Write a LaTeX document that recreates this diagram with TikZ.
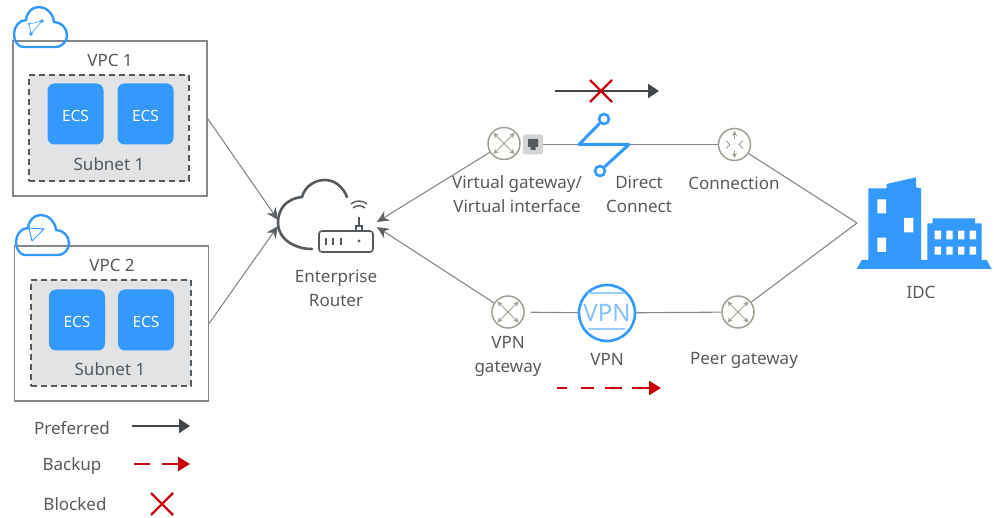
\documentclass[tikz,border=0pt]{standalone}
\usepackage{fontspec}
\setmainfont{Noto Sans}
\usetikzlibrary{arrows.meta}

\definecolor{txtgray}{HTML}{555A5E}
\definecolor{linegray}{HTML}{85888A}
\definecolor{darkline}{HTML}{41464B}
\definecolor{iconblue}{HTML}{3399FF}
\definecolor{subnetgray}{HTML}{E1E3E5}
\definecolor{iconolive}{HTML}{A0A092}
\definecolor{blockred}{HTML}{C7000B}

\tikzset{
	lbl/.style={text=txtgray,font=\fontsize{17}{24}\selectfont,align=center,inner sep=0pt},
	vpcbox/.style={draw=linegray,line width=1.2pt,minimum width=194pt,minimum height=155pt,inner sep=0pt},
	subnetbox/.style={draw=txtgray,fill=subnetgray,dash pattern=on 6pt off 4pt,line width=1.1pt,minimum width=160pt,minimum height=106pt,inner sep=0pt},
	ecsbox/.style={fill=iconblue,rounded corners=7pt,text=white,font=\fontsize{15.5}{18}\selectfont,minimum width=56pt,minimum height=61pt,inner sep=0pt},
	link/.style={draw=linegray,line width=1.1pt},
	gwnode/.style={draw=iconolive,line width=1.5pt,circle,minimum size=32pt,inner sep=0pt,path picture={
		\draw[iconolive,line width=.9pt,{Stealth[length=5pt,width=5pt]}-{Stealth[length=5pt,width=5pt]}] (path picture bounding box.center)+(-10.5,-10.5) -- +(10.5,10.5);
		\draw[iconolive,line width=.9pt,{Stealth[length=5pt,width=5pt]}-{Stealth[length=5pt,width=5pt]}] (path picture bounding box.center)+(-10.5,10.5) -- +(10.5,-10.5);}},
	inarrow/.style={link,-{Stealth[length=12pt,width=11pt,color=darkline!85]}},
	preferred/.style={draw=darkline,line width=2.2pt,-{Triangle[length=11pt,width=14pt]}},
	backup/.style={draw=blockred,line width=2.4pt,dash pattern=on 10pt off 14pt on 13pt off 11pt on 17pt off 10pt on 30pt,-{Triangle[length=12pt,width=14pt]}},
	blockedx/.style={draw=blockred,line width=2.2pt},
	dcline/.style={draw=iconblue,line width=3pt,line join=round},
	dcring/.style={draw=iconblue,fill=white,line width=2.6pt,circle,minimum size=10pt,inner sep=0pt},
	cloudicon/.pic={
		\draw[iconblue,line width=2.4pt] (23,47) -- (55,47) .. controls (63,47) and (67,41) .. (67,35)
			.. controls (67,28) and (61,22) .. (54,22) .. controls (53,13) and (46,7) .. (39,7)
			.. controls (32,7) and (27,12) .. (26,20) .. controls (19,20) and (14,27) .. (14,34)
			.. controls (14,41) and (18,47) .. (23,47) -- cycle;
	},
}

\begin{document}
\begin{tikzpicture}[x=1pt,y=-1pt]
	\useasboundingbox (0,0) rectangle (994,518);

	% VPCs
	\node[vpcbox] (vpc1) at (110,118.5) {};
	\node[subnetbox] (subnet1) at (109,128) {};
	\node[ecsbox] (ecs11) at (75.5,114) {};
	\node[ecsbox] (ecs12) at (145.5,114) {};
	\node[ecsbox,fill=none] (ecs11lbl) at (75.5,115.5) {ECS};
	\node[ecsbox,fill=none] (ecs12lbl) at (145.5,115.5) {ECS};
	\node[lbl] (vpc1lbl) at (110,60) {VPC 1};
	\node[lbl] (subnet1lbl) at (109,164) {Subnet 1};
	\pic {cloudicon};
	\draw[iconblue,line width=.6pt] (31,34) -- (42,21) -- (29,24) -- cycle;
	\fill[iconblue] (31,34) circle (1.8) (42,21) circle (1.8) (29,24) circle (1.2);

	\node[vpcbox] (vpc2) at (111.5,323.5) {};
	\node[subnetbox] (subnet2) at (111,333) {};
	\node[ecsbox] (ecs21) at (77,320) {};
	\node[ecsbox] (ecs22) at (146,320) {};
	\node[ecsbox,fill=none] (ecs21lbl) at (77,321.5) {ECS};
	\node[ecsbox,fill=none] (ecs22lbl) at (146,321.5) {ECS};
	\node[lbl] (vpc2lbl) at (112,265.5) {VPC 2};
	\node[lbl] (subnet2lbl) at (110,369) {Subnet 1};
	\pic[shift={(2,208)}] {cloudicon};
	\draw[iconblue,line width=1pt,line join=round] (32,241) -- (29,228) -- (44,229) -- cycle;

	% router
	\coordinate (rtrw1) at (278,220);
	\coordinate (rtrw2) at (278,226);
	\coordinate (rtre1) at (377,222);
	\coordinate (rtre2) at (377,227);
	\draw[txtgray,line width=2.6pt,line cap=round] (312,249) .. controls (306,249) and (301,248) .. (296,246)
		.. controls (285,242) and (278,233) .. (278,223) .. controls (278,210) and (285,199) .. (302,197)
		.. controls (305,186) and (315,180) .. (325,180) .. controls (335,180) and (343,187) .. (347,197);
	\draw[txtgray,line width=1.6pt,rounded corners=3pt] (319,231) rectangle (373,252);
	\draw[txtgray,line width=1.6pt] (326,238) -- (326,245) (333,238) -- (333,245) (341,238) -- (341,245);
	\fill[txtgray] (359,241) circle (1.6);
	\draw[txtgray,line width=1.6pt] (356,231) -- (356,226) -- (362,226) -- (362,231) (359,226) -- (359,217);
	\draw[txtgray,line width=1.4pt] (353,208) .. controls (356,205) and (362,205) .. (365,208);
	\draw[txtgray,line width=1.4pt] (351,204) .. controls (355,200) and (363,200) .. (367,204);
	\node[lbl] (rtrlbl) at (336,288) {Enterprise\\Router};

	% upper path
	\node[gwnode] (vgw) at (504,143.5) {};
	\node[fill=black!17,rounded corners=2pt,minimum size=20pt,inner sep=0pt] (port) at (533,144.5) {};
	\fill[txtgray] (528,139) rectangle (538,147) (530.5,147) rectangle (535.5,150);
	\coordinate (dcw) at (579,144.5);
	\coordinate (dce) at (629,144.5);
	\draw[link] (port) -- (dcw);
	\node[gwnode,path picture={}] (conn) at (734.5,144.5) {};
	\draw[iconolive,line width=.9pt,-{Stealth[length=5pt,width=5pt]}] (734.5,139) -- (734.5,131);
	\draw[iconolive,line width=.9pt,-{Stealth[length=5pt,width=5pt]}] (734.5,150) -- (734.5,158);
	\draw[iconolive,line width=.9pt] (726,140.5) -- (730,144.5) -- (726,148.5) (743,140.5) -- (739,144.5) -- (743,148.5);
	\draw[link] (dce) -- (conn);
	\node[dcring] (dctop) at (604,119) {};
	\node[dcring] (dcbot) at (600,171) {};
	\draw[dcline] (dctop) -- (dcw) -- (dce) -- (dcbot);
	\node[lbl] (vgwlbl) at (517,194) {Virtual gateway/\\Virtual interface};
	\node[lbl] (dclbl) at (639,194) {Direct\\Connect};
	\node[lbl] (connlbl) at (734,183.5) {Connection};

	% lower path
	\node[gwnode] (vpngw) at (508,312) {};
	\node[draw=iconblue,line width=2.6pt,circle,minimum size=56pt,inner sep=0pt,text=iconblue!60,font=\fontsize{24}{24}\selectfont] (vpn) at (607,313) {VPN};
	\draw[iconblue!50,line width=2.4pt] (588,293) -- (625,293) (588,329) -- (625,329);
	\node[gwnode] (peer) at (738,312) {};
	\draw[link,shorten <=6pt] (vpngw) -- (vpn);
	\draw[link] (vpn) -- (peer);
	\node[lbl] (vpngwlbl) at (508,356.5) {VPN\\gateway};
	\node[lbl] (vpnlbl) at (607,359) {VPN};
	\node[lbl] (peerlbl) at (744,360) {Peer gateway};

	% IDC
	\coordinate (idcw) at (857,223);
	\begin{scope}[shift={(840,170)},x=1/3*1pt,y=-1/3*1pt]
		\fill[iconblue] (85,55) -- (140,55) -- (140,42) -- (228,22) -- (228,52) -- (243,55) -- (243,270)
			-- (262,270) -- (262,160) -- (278,160) -- (278,145) -- (405,145) -- (405,160) -- (425,160)
			-- (425,270) -- (440,270) -- (455,297) -- (50,297) -- (65,270) -- (85,270) -- cycle;
		\fill[white] (112,88) rectangle (138,130) (192,144) rectangle (220,187) (112,203) rectangle (138,246);
		\fill[white] (284,182) rectangle (303,208) (319,182) rectangle (338,208) (354,182) rectangle (373,208) (389,182) rectangle (408,208);
		\fill[white] (284,230) rectangle (303,254) (319,230) rectangle (338,254) (354,230) rectangle (373,254) (389,230) rectangle (408,254);
	\end{scope}
	\node[lbl] (idclbl) at (921,292.5) {IDC};

	% links
	\draw[inarrow] (vpc1.east) -- (rtrw1);
	\draw[inarrow] (vpc2.east) -- (rtrw2);
	\draw[inarrow] (vgw) -- (rtre1);
	\draw[inarrow] (vpngw) -- (rtre2);
	\draw[link] (conn) -- (idcw);
	\draw[link] (peer) -- (idcw);

	% path state marks
	\coordinate (blka) at (555,91);
	\coordinate (blkb) at (659,91);
	\draw[preferred] (blka) -- (blkb);
	\coordinate (blkx1) at (590,80);
	\coordinate (blkx2) at (612,102);
	\coordinate (blkx3) at (590,102);
	\coordinate (blkx4) at (612,80);
	\draw[blockedx] (blkx1) -- (blkx2) (blkx3) -- (blkx4);
	\coordinate (bkpa) at (557,388);
	\coordinate (bkpb) at (661,388);
	\draw[backup] (bkpa) -- (bkpb);

	% legend
	\node[lbl] (preflbl) at (72,428) {Preferred};
	\node[lbl] (bkplbl) at (72,466) {Backup};
	\node[lbl] (blklbl) at (75,504) {Blocked};
	\coordinate (lgpa) at (132,426);
	\coordinate (lgpb) at (190,426);
	\draw[preferred] (lgpa) -- (lgpb);
	\coordinate (lgba) at (134,464);
	\coordinate (lgbb) at (190,464);
	\draw[backup,dash pattern=on 16pt off 12pt on 30pt] (lgba) -- (lgbb);
	\coordinate (lgx1) at (151,493);
	\coordinate (lgx2) at (173,515);
	\coordinate (lgx3) at (151,515);
	\coordinate (lgx4) at (173,493);
	\draw[blockedx] (lgx1) -- (lgx2) (lgx3) -- (lgx4);
\end{tikzpicture}
\end{document}
